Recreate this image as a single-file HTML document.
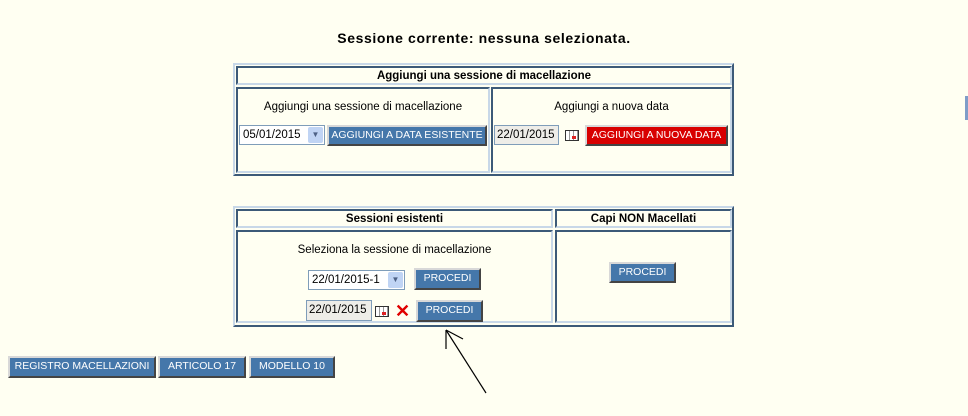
<!DOCTYPE html>
<html><head><meta charset="utf-8"><style>
body{margin:0;width:968px;height:416px;background:#fffff2;position:relative;overflow:hidden;font-family:"Liberation Sans",sans-serif;font-size:11px;color:#000}
.a{position:absolute;box-sizing:border-box}
.tbl{border:2px solid;border-color:#c8d8e8 #3c5a78 #3c5a78 #c8d8e8}
.cell{border:2px solid;border-color:#3c5a78 #c8d8e8 #c8d8e8 #3c5a78}
.hd{font-weight:bold;text-align:center;line-height:16px;font-size:11.5px}
.btn{background:#4577aa;color:#fff;text-align:center;border:2px solid;border-color:#d8d8d8 #444 #444 #d8d8d8;line-height:17px;font-size:10.5px;white-space:nowrap}
.red{background:#d80000}
.inp{border:1px solid #7f9db9;background:#eeede8;line-height:18px;padding-left:2px;font-size:11.5px}
.sel{border:1px solid #7f9db9;background:#fff;line-height:18px;padding-left:3px;font-size:11.5px}
.dd{position:absolute;right:1px;top:1px;width:15px;height:16px;background:#c0d4f4;border-radius:2px;color:#4d6185;font-size:8px;text-align:center;line-height:16px}
.cal{width:14px;height:11px;border:1px solid #333;background:repeating-linear-gradient(90deg,#fff 0 3px,#999 3px 4px);}
.cal:after{content:"";position:absolute;right:2px;bottom:1px;width:4px;height:3px;background:#d22}
.txt{text-align:center;font-size:11.5px}
</style></head><body>
<div class="a" style="left:0;width:968px;top:30px;text-align:center;font-size:14px;font-weight:bold;letter-spacing:0.6px">Sessione corrente: nessuna selezionata.</div>
<div class="a" style="left:965px;top:96px;width:3px;height:24px;background:#7f9dc8"></div>

<div class="a tbl" style="left:233px;top:63px;width:501px;height:113px"></div>
<div class="a cell hd" style="left:236px;top:66px;width:496px;height:19px">Aggiungi una sessione di macellazione</div>
<div class="a cell" style="left:236px;top:87px;width:254px;height:86px"></div>
<div class="a cell" style="left:491px;top:87px;width:241px;height:86px"></div>
<div class="a txt" style="left:236px;width:254px;top:101px">Aggiungi una sessione di macellazione</div>
<div class="a sel" style="left:239px;top:125px;width:86px;height:20px">05/01/2015<div class="dd">&#9660;</div></div>
<div class="a btn" style="left:327px;top:125px;width:160px;height:21px">AGGIUNGI A DATA ESISTENTE</div>
<div class="a txt" style="left:491px;width:241px;top:101px">Aggiungi a nuova data</div>
<div class="a inp" style="left:494px;top:125px;width:65px;height:20px">22/01/2015</div>
<div class="a cal" style="left:565px;top:130px"></div>
<div class="a btn red" style="left:585px;top:125px;width:143px;height:21px">AGGIUNGI A NUOVA DATA</div>

<div class="a tbl" style="left:233px;top:206px;width:501px;height:121px"></div>
<div class="a cell hd" style="left:236px;top:209px;width:317px;height:19px">Sessioni esistenti</div>
<div class="a cell hd" style="left:555px;top:209px;width:177px;height:19px">Capi NON Macellati</div>
<div class="a cell" style="left:236px;top:230px;width:317px;height:93px"></div>
<div class="a cell" style="left:555px;top:230px;width:177px;height:93px"></div>
<div class="a txt" style="left:236px;width:317px;top:244px">Seleziona la sessione di macellazione</div>
<div class="a sel" style="left:308px;top:270px;width:97px;height:20px">22/01/2015-1<div class="dd">&#9660;</div></div>
<div class="a btn" style="left:414px;top:268px;width:67px;height:22px">PROCEDI</div>
<div class="a inp" style="left:306px;top:300px;width:66px;height:21px">22/01/2015</div>
<div class="a cal" style="left:375px;top:306px"></div>
<div class="a" style="left:395px;top:300px;color:#e00000;font-size:18px;font-weight:bold;line-height:22px">&#10005;</div>
<div class="a btn" style="left:416px;top:300px;width:67px;height:22px">PROCEDI</div>
<div class="a btn" style="left:609px;top:262px;width:67px;height:21px">PROCEDI</div>

<div class="a btn" style="left:8px;top:356px;width:148px;height:22px">REGISTRO MACELLAZIONI</div>
<div class="a btn" style="left:158px;top:356px;width:88px;height:22px">ARTICOLO 17</div>
<div class="a btn" style="left:249px;top:356px;width:86px;height:22px">MODELLO 10</div>

<svg class="a" style="left:0;top:0" width="968" height="416"><g stroke="#000" stroke-width="1.2" fill="none"><line x1="446" y1="330" x2="486" y2="393"/><line x1="446" y1="330" x2="446" y2="349"/><line x1="446" y1="330" x2="463" y2="339"/></g></svg>
</body></html>
